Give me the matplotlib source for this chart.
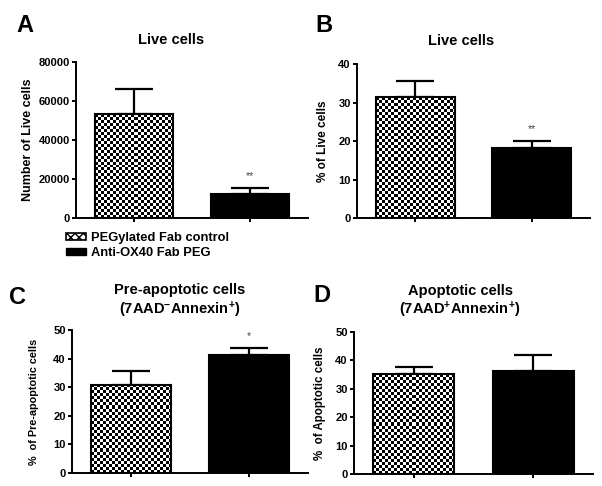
import numpy as np
import matplotlib
matplotlib.use('Agg')
import matplotlib.pyplot as plt
from matplotlib.patches import Patch

plt.rcParams['font.family'] = 'Liberation Sans'
plt.rcParams['font.weight'] = 'bold'
plt.rcParams['mathtext.fontset'] = 'custom'
plt.rcParams['mathtext.rm'] = 'Liberation Sans:bold'
plt.rcParams['mathtext.bf'] = 'Liberation Sans:bold'
plt.rcParams['mathtext.default'] = 'rm'

# ---- data (mean, upper SEM) ----
groups = ['PEGylated Fab control', 'Anti-OX40 Fab PEG']

live_count = [53200, 12300]
live_count_err = [12700, 3000]
live_pct = [31.4, 18.3]
live_pct_err = [4.2, 1.6]
preapop_pct = [30.9, 41.4]
preapop_pct_err = [4.9, 2.2]
apop_pct = [35.2, 36.2]
apop_pct_err = [2.5, 5.6]

sig_a = ['', '**']
sig_b = ['', '**']
sig_c = ['', '*']
sig_d = ['', '']

fig = plt.figure(figsize=(6.02, 4.86), dpi=100)
W, H = 602, 486


def px_axes(left, right, top, bottom):
    return fig.add_axes([left / W, 1 - bottom / H, (right - left) / W, (bottom - top) / H])


def checker_fill(ax, rect, cell=3):
    x0, y0 = rect.get_x(), rect.get_y()
    x1, y1 = x0 + rect.get_width(), y0 + rect.get_height()
    p0 = ax.transData.transform((x0, y0))
    p1 = ax.transData.transform((x1, y1))
    nx = max(1, int(round(abs(p1[0] - p0[0]) / cell)))
    ny = max(1, int(round(abs(p1[1] - p0[1]) / cell)))
    board = np.indices((ny, nx)).sum(axis=0) % 2
    ax.imshow(board, cmap='gray', extent=(x0, x1, y0, y1), aspect='auto',
              interpolation='nearest', zorder=2, vmin=0, vmax=1)


def panel(ax, values, errs, sig, ylim, yticks, ylabel, ylabel_size, labelpad):
    x = np.arange(len(values))
    ax.set_xlim(-0.5, 1.5)
    ax.set_ylim(*ylim)
    bars = ax.bar(x, values, width=0.68, color=['white', 'black'],
                  edgecolor='black', linewidth=1.5, zorder=3)
    bars[0].set_facecolor('none')
    checker_fill(ax, bars[0])
    ax.errorbar(x, values, yerr=[np.zeros(len(errs)), errs], fmt='none',
                ecolor='black', elinewidth=1.6, capsize=14, capthick=1.6, zorder=1)
    for xi, v, e, s in zip(x, values, errs, sig):
        if s:
            ax.annotate(s, (xi, v + e), xytext=(0, 5), textcoords='offset points',
                        ha='center', va='bottom', fontsize=7.5, color='#444444',
                        fontweight='normal')
    for side in ['top', 'right']:
        ax.spines[side].set_visible(False)
    for side in ['left', 'bottom']:
        ax.spines[side].set_linewidth(1.4)
    ax.set_xticks(x)
    ax.set_xticklabels([])
    ax.set_yticks(yticks)
    ax.tick_params(direction='out', length=3, width=1.4, pad=1.5, labelsize=8)
    for lab in ax.get_yticklabels():
        lab.set_fontweight('bold')
    ax.set_ylabel(ylabel, fontsize=ylabel_size, fontweight='bold', labelpad=labelpad)


ax_a = px_axes(76, 308, 62, 218)
panel(ax_a, live_count, live_count_err, sig_a, (0, 80000),
      np.arange(0, 80001, 20000), 'Number of Live cells', 9, 3)

ax_b = px_axes(357, 590, 64, 218)
panel(ax_b, live_pct, live_pct_err, sig_b, (0, 40),
      np.arange(0, 41, 10), '% of Live cells', 8.5, 7)

ax_c = px_axes(72, 308, 330, 473)
panel(ax_c, preapop_pct, preapop_pct_err, sig_c, (0, 50),
      np.arange(0, 51, 10), '%  of Pre-apoptotic cells', 7.8, 10)

ax_d = px_axes(354, 593, 332, 474)
panel(ax_d, apop_pct, apop_pct_err, sig_d, (0, 50),
      np.arange(0, 51, 10), '%  of Apoptotic cells', 8.3, 7)

# panel letters and titles
for lx, ly, letter in [(25, 26, 'A'), (324, 26, 'B'), (17, 298, 'C'), (322, 296, 'D')]:
    fig.text(lx / W, 1 - ly / H, letter, fontsize=17, fontweight='bold',
             ha='center', va='center')

fig.text(171 / W, 1 - 40 / H, 'Live cells', fontsize=10.5, ha='center', va='center')
fig.text(461 / W, 1 - 41 / H, 'Live cells', fontsize=10.5, ha='center', va='center')
fig.text(180 / W, 1 - 290 / H, 'Pre-apoptotic cells', fontsize=10.5, ha='center', va='center')
fig.text(180 / W, 1 - 310 / H, r'(7AAD$^{-}$Annexin$^{+}$)', fontsize=10.5,
         ha='center', va='center')
fig.text(460 / W, 1 - 291 / H, 'Apoptotic cells', fontsize=10.5, ha='center', va='center')
fig.text(460 / W, 1 - 310 / H, r'(7AAD$^{+}$Annexin$^{+}$)', fontsize=10.5,
         ha='center', va='center')

# legend
handles = [Patch(facecolor='white', edgecolor='black', hatch='xxxx', linewidth=1.2),
           Patch(facecolor='black', edgecolor='black')]
fig.legend(handles, groups, loc='upper left', bbox_to_anchor=(66 / W, 1 - 232 / H),
           frameon=False, fontsize=9.3, handlelength=1.55, handleheight=0.5,
           handletextpad=0.35, labelspacing=0.25, borderpad=0, borderaxespad=0)

fig.savefig('out.png', dpi=100)
